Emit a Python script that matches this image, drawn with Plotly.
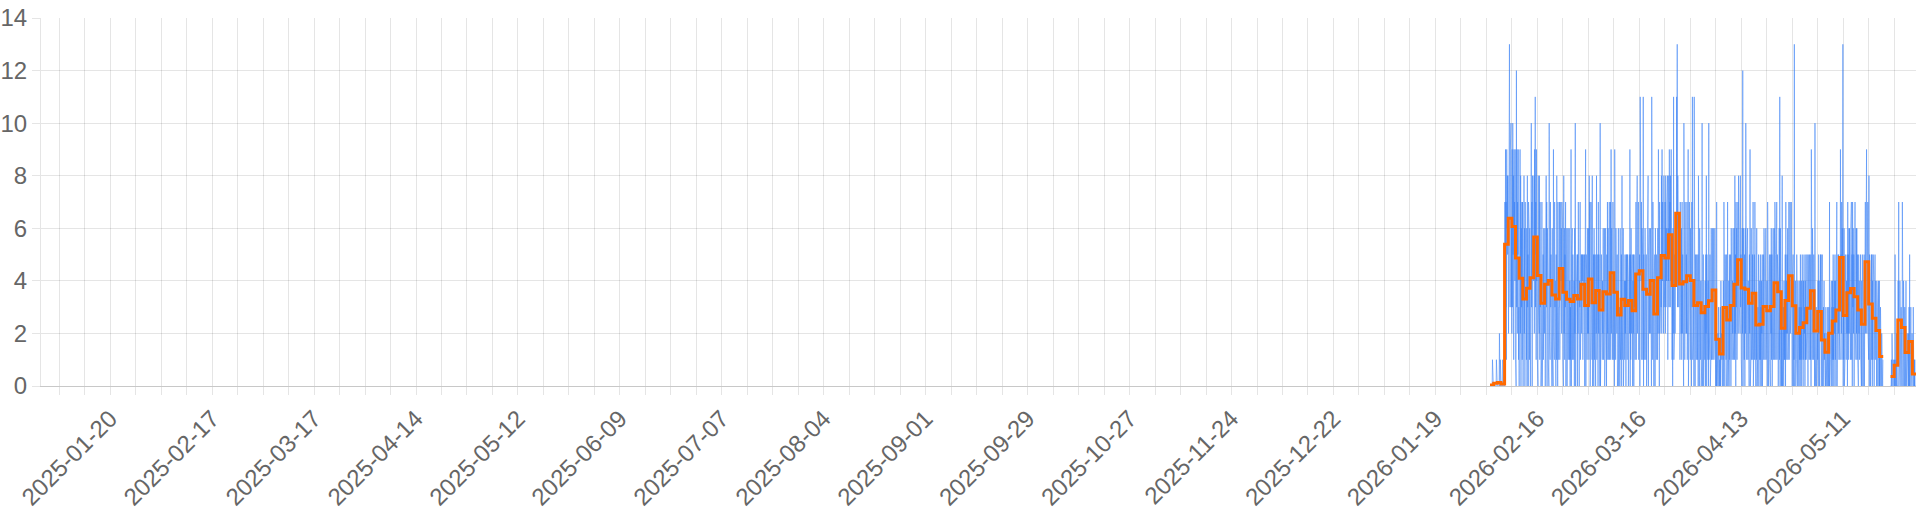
import datetime as dt
import plotly.graph_objects as go

# daily average (orange step line), one value per day, None = no data
avg_start = "2026-02-03"
avg_feb = [0.04, 0.10, 0.13, 0.08, 5.39, 6.38, 6.07, 4.87, 4.10, 3.31, 3.72, 4.12, 5.67,
           4.20, 3.15, 3.87, 4.01, 3.46, 3.31, 4.47, 3.57, 3.30, 3.21, 3.44, 3.31, 3.87]
avg_mar = [3.06, 4.07, 3.17, 3.63, 2.89, 3.59, 3.50, 4.31, 3.57, 2.70, 3.30, 3.06, 3.25,
           2.86, 4.26, 4.38, 3.68, 3.49, 4.01, 2.74, 4.12, 4.96, 4.87, 5.75, 3.82, 6.57,
           3.88, 3.97, 4.19, 4.01, 3.06]
avg_apr = [3.17, 2.79, 3.02, 3.24, 3.65, 1.78, 1.22, 2.99, 2.51, 3.06, 3.87, 4.80, 3.73,
           3.68, 3.15, 3.53, 2.32, 2.35, 3.02, 2.86, 3.02, 3.93, 3.59, 2.20, 3.25, 4.19,
           3.05, 2.01, 2.23, 2.41]
avg_may = [2.96, 3.62, 2.09, 2.83, 1.75, 1.28, 2.01, 2.47, 2.89, 4.89, 2.68, 3.55, 3.71,
           3.40, 2.89, 2.35, 4.73, 3.12, 2.58, 2.11, 1.12, None, None, 0.36, 0.79, 2.51,
           2.23, 1.27, 1.69, 0.46]

# raw counts (blue line), 12 readings per day (every 2 h)
per_day = 12
blue_a_start = "2026-02-03"
blue_feb = [
    0,0,0,0,0,0,0,0,1,0,0,0, 0,0,0,0,0,0,0,0,0,1,0,0, 0,0,0,0,0,0,0,2,0,0,1,0,
    0,0,0,0,0,0,1,0,0,0,0,0, 0,7,2,9,3,7,1,9,6,8,5,8, 5,2,9,4,13,7,3,9,6,10,3,6,
    2,9,3,10,5,8,1,9,6,7,4,9, 1,6,0,12,3,9,2,7,5,9,1,3, 0,5,1,9,2,8,0,6,3,7,1,7,
    3,0,5,1,8,2,6,0,7,1,4,3, 1,6,0,8,3,5,0,7,2,6,1,6, 2,0,6,1,10,3,7,0,8,2,5,5,
    4,8,2,9,5,11,3,7,1,9,4,5, 1,7,0,8,3,6,2,8,1,7,3,4, 0,4,1,7,0,6,2,5,1,6,3,3,
    2,6,0,5,1,8,3,7,0,6,4,4, 1,5,0,10,2,6,1,7,3,5,2,6, 0,6,1,4,0,9,2,5,1,7,3,4,
    2,0,5,1,8,2,6,0,7,1,5,3, 3,7,1,6,2,7,4,6,2,7,3,6, 1,5,0,8,2,6,1,5,3,7,0,5,
    2,6,0,5,3,6,1,4,2,6,1,4, 0,3,1,9,0,5,2,6,1,5,2,5, 1,4,0,6,2,10,0,5,3,4,1,5,
    0,5,2,7,1,6,0,4,3,7,1,4, 3,5,2,5,4,5,1,5,3,5,3,5,
]
blue_mar = [
    0,4,1,9,0,5,2,4,1,6,2,3, 2,6,1,8,3,7,0,6,2,7,3,4, 1,8,0,4,2,5,0,6,1,5,2,4,
    0,5,2,8,1,6,3,5,0,7,2,5, 1,3,0,10,0,4,2,5,1,4,1,4, 2,6,1,5,3,6,0,5,2,6,3,4,
    0,5,1,7,2,6,1,5,3,7,1,4, 3,7,1,9,2,6,4,5,1,7,2,5, 1,4,0,9,2,5,1,6,3,5,2,5,
    0,4,1,6,0,5,2,3,0,6,1,4, 2,5,0,8,1,4,3,6,0,5,2,4, 1,5,2,4,0,5,3,5,1,5,2,4,
    0,4,1,5,2,9,0,5,1,6,2,4, 1,5,0,4,2,5,0,5,3,4,1,4, 2,7,1,6,3,8,2,5,4,7,1,5,
    3,5,0,11,2,6,4,7,1,6,3,5, 1,11,0,5,2,4,1,6,3,5,1,5, 0,5,2,6,1,8,0,5,3,6,2,4,
    2,6,1,5,0,11,3,5,1,7,2,5, 0,4,1,5,0,6,2,4,1,5,1,4, 1,6,2,9,3,5,0,7,2,6,3,5,
    3,8,2,9,4,7,3,6,2,8,3,5, 4,7,2,8,3,6,4,7,2,8,1,6, 4,8,3,9,5,7,3,8,4,9,3,6,
    1,5,0,6,2,11,1,6,2,5,2,5, 5,9,4,11,6,13,3,8,5,7,3,5, 2,6,1,7,3,5,2,6,1,7,2,5,
    1,5,0,10,2,6,1,7,3,6,2,5, 2,7,1,5,3,9,0,6,3,7,2,5, 1,6,2,5,0,7,3,11,1,6,2,4,
    0,11,1,4,0,5,2,4,1,5,1,3,
]
blue_apr = [
    1,5,0,8,2,4,0,6,2,5,1,4, 0,3,1,10,0,4,1,5,0,4,2,3, 1,4,0,5,2,8,0,5,1,5,1,4,
    0,10,1,4,2,5,0,5,1,6,1,4, 2,6,1,5,3,6,1,5,2,6,2,5, 0,2,0,7,0,3,1,2,0,3,1,2,
    0,1,0,3,0,4,1,2,0,2,0,2, 1,4,0,7,1,5,0,5,2,5,1,5, 0,3,1,7,0,4,1,4,0,5,1,4,
    1,5,0,6,2,5,1,4,2,6,1,4, 2,6,1,8,2,5,0,7,3,6,1,5, 3,7,2,8,4,6,3,7,2,8,3,5,
    1,5,0,6,2,12,0,6,2,5,1,5, 0,6,2,10,1,5,1,5,3,6,1,4, 1,4,0,5,2,9,0,5,1,6,1,4,
    2,5,1,7,0,6,2,5,1,7,1,5, 0,3,1,6,0,4,1,3,0,5,1,4, 1,4,0,5,1,3,0,4,2,5,0,3,
    0,5,1,6,2,4,1,5,1,6,1,4, 1,4,0,7,1,4,0,5,2,5,1,4, 0,5,2,6,1,5,0,4,2,6,1,4,
    2,6,1,7,3,5,1,6,3,7,1,5, 1,4,0,5,2,6,1,11,0,6,2,5, 0,3,0,8,0,3,1,3,0,4,1,3,
    1,5,0,7,2,4,1,5,2,6,1,5, 2,7,1,6,3,7,2,6,3,7,1,5, 0,4,1,5,0,4,1,13,0,4,1,4,
    0,3,1,5,0,3,0,4,1,4,0,3, 1,4,0,5,1,3,0,4,1,5,0,3, 0,4,1,5,2,3,0,4,1,5,1,3,
]
blue_may = [
    2,5,1,4,0,5,3,5,1,5,1,4, 1,5,0,9,2,5,1,6,2,6,1,5, 0,2,0,10,0,3,1,3,0,3,1,2,
    1,4,0,5,2,4,0,5,1,5,2,5, 0,3,0,5,0,2,1,3,0,4,1,2, 0,2,0,3,0,2,1,2,0,3,0,2,
    0,3,0,7,0,3,1,3,0,4,0,3, 1,4,0,5,1,3,0,4,2,5,1,4, 0,5,1,7,0,4,1,5,2,5,1,4,
    2,6,1,9,3,5,2,7,1,6,4,13, 0,4,1,6,0,4,1,5,1,5,1,4, 2,5,0,7,2,5,1,6,2,6,2,5,
    1,6,2,7,1,5,0,7,3,6,2,5, 0,5,1,7,2,5,1,6,2,6,1,5, 1,5,0,5,2,4,1,5,2,5,1,4,
    0,4,0,5,1,3,0,4,2,5,0,4, 3,7,2,6,4,9,2,6,3,7,2,6, 1,8,0,5,1,4,0,5,2,5,1,5,
    0,4,1,5,1,4,0,4,2,5,1,4, 1,3,0,4,1,3,0,4,1,4,0,4, 0,2,0,3,0,2,0,2,1,2,0,1,
]
blue_b_start = "2026-05-24"
blue_late_may = [
    0,0,0,1,0,2,0,0,0,1,0,0, 0,1,0,5,0,0,1,0,2,0,0,0, 0,4,1,7,0,4,1,4,2,4,0,3,
    1,3,0,7,0,4,0,4,1,4,0,3, 0,2,0,4,0,2,1,2,0,2,0,2, 0,3,0,5,0,2,1,3,0,3,1,2,
    0,1,0,3,0,0,1,0,1,0,0,0,
]

x_range = ["2025-01-01", "2026-05-31"]

DAY = dt.timedelta(days=1)


def blue_xy(start, values):
    t0 = dt.datetime.fromisoformat(start)
    step = DAY / per_day
    return [t0 + i * step for i in range(len(values))], list(values)


xa, ya = blue_xy(blue_a_start, blue_feb + blue_mar + blue_apr + blue_may)
xb, yb = blue_xy(blue_b_start, blue_late_may)
blue_x = xa + [None] + xb
blue_y = ya + [None] + yb

# step line: hold each day's value until the next day, break on gaps
avg = avg_feb + avg_mar + avg_apr + avg_may
d0 = dt.datetime.fromisoformat(avg_start)
step_x, step_y = [], []
for i, v in enumerate(avg):
    if v is None:
        continue
    step_x.append(d0 + i * DAY)
    step_y.append(v)
    if i + 1 == len(avg) or avg[i + 1] is None:
        step_x += [d0 + (i + 1) * DAY, None]
        step_y += [v, None]

grid = "rgba(0,0,0,0.1)"
font = dict(family="Liberation Sans, Arial, sans-serif", size=24, color="#666666")

fig = go.Figure()
fig.add_trace(go.Scatter(x=blue_x, y=blue_y, mode="lines",
                         line=dict(color="rgba(59,130,246,0.55)", width=1),
                         connectgaps=False, hoverinfo="skip"))
fig.add_trace(go.Scatter(x=step_x, y=step_y, mode="lines",
                         line=dict(color="#ff6a00", width=3, shape="hv"),
                         connectgaps=False))

fig.update_layout(
    width=1920, height=512,
    margin=dict(l=41, r=4, t=18, b=126),
    paper_bgcolor="white", plot_bgcolor="white",
    showlegend=False,
    font=font,
)
fig.update_xaxes(
    type="date", range=x_range, automargin=False,
    tick0="2025-01-20", dtick=28 * 86400000, tickformat="%Y-%m-%d",
    tickangle=-45, ticks="outside", ticklen=8, tickcolor=grid,
    showgrid=True, gridcolor=grid, gridwidth=1,
    minor=dict(tick0="2025-01-06", dtick=7 * 86400000, showgrid=True,
               gridcolor=grid, ticks="outside", ticklen=8, tickcolor=grid),
    showline=True, linecolor="#c8c8c8", linewidth=1,
    zeroline=False, tickfont=font,
)
fig.update_yaxes(
    range=[0, 14], dtick=2, automargin=False,
    ticks="outside", ticklen=8, tickcolor=grid,
    showgrid=True, gridcolor=grid, gridwidth=1,
    showline=True, linecolor=grid, zeroline=False, tickfont=font,
)

# the page keeps the browser's default 8px body margin otherwise
fig.write_html("out.html", config={"displayModeBar": False},
               post_script="document.body.style.margin='0';")
